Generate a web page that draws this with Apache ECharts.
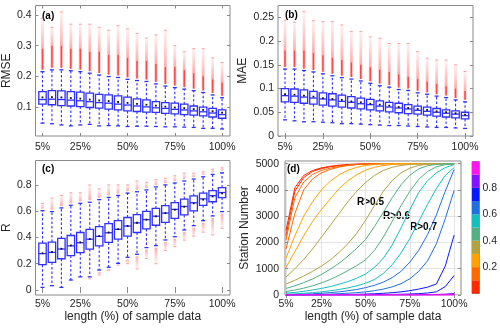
<!DOCTYPE html>
<html>
<head>
<meta charset="utf-8">
<script src="https://cdn.jsdelivr.net/npm/echarts@6/dist/echarts.min.js"></script>
<style>
  html, body { margin: 0; padding: 0; background: #fff; }
  #chart { width: 500px; height: 329px; }
</style>
</head>
<body>
<div id="chart"></div>
<script>
// sample lengths (%) and the tick labels shown on the x axes
const lengths = [5, 10, 15, 20, 25, 30, 35, 40, 45, 50, 55, 60, 65, 70, 75, 80, 85, 90, 95, 100]
const xTicks = [5, 25, 50, 75, 100]

// (a) RMSE box statistics
const rmseLowWhisker = [0.047, 0.045, 0.041, 0.038, 0.041, 0.043, 0.038, 0.039, 0.038, 0.036, 0.037, 0.037, 0.036, 0.035, 0.035, 0.034, 0.033, 0.030, 0.030, 0.028]
const rmseQ1 = [0.109, 0.107, 0.104, 0.103, 0.101, 0.098, 0.096, 0.093, 0.090, 0.087, 0.085, 0.083, 0.082, 0.079, 0.077, 0.075, 0.073, 0.071, 0.067, 0.063]
const rmseMedian = [0.124, 0.125, 0.124, 0.122, 0.120, 0.117, 0.114, 0.112, 0.109, 0.106, 0.103, 0.100, 0.097, 0.095, 0.092, 0.090, 0.087, 0.084, 0.080, 0.075]
const rmseQ3 = [0.150, 0.153, 0.152, 0.150, 0.148, 0.145, 0.141, 0.139, 0.136, 0.132, 0.126, 0.123, 0.117, 0.114, 0.112, 0.109, 0.103, 0.099, 0.095, 0.090]
const rmseHighWhisker = [0.215, 0.221, 0.221, 0.218, 0.215, 0.210, 0.204, 0.199, 0.196, 0.190, 0.186, 0.183, 0.175, 0.168, 0.163, 0.158, 0.153, 0.147, 0.139, 0.130]
const rmseMean = [0.131, 0.132, 0.131, 0.129, 0.127, 0.124, 0.121, 0.119, 0.116, 0.113, 0.110, 0.107, 0.104, 0.101, 0.098, 0.096, 0.093, 0.090, 0.086, 0.081]
const rmseDenseTop = [0.29, 0.30, 0.30, 0.29, 0.29, 0.28, 0.28, 0.27, 0.27, 0.26, 0.25, 0.25, 0.24, 0.23, 0.23, 0.22, 0.21, 0.20, 0.19, 0.18]
const rmseMaxOutlier = [0.39, 0.36, 0.41, 0.37, 0.37, 0.37, 0.36, 0.35, 0.365, 0.355, 0.34, 0.325, 0.335, 0.35, 0.30, 0.28, 0.29, 0.29, 0.26, 0.245]

// (b) MAE box statistics
const maeLowWhisker = [0.034, 0.032, 0.030, 0.030, 0.029, 0.028, 0.026, 0.026, 0.025, 0.024, 0.023, 0.022, 0.022, 0.021, 0.020, 0.019, 0.018, 0.018, 0.017, 0.016]
const maeQ1 = [0.072, 0.071, 0.069, 0.067, 0.065, 0.063, 0.061, 0.059, 0.057, 0.055, 0.053, 0.051, 0.049, 0.047, 0.046, 0.044, 0.042, 0.040, 0.038, 0.036]
const maeMedian = [0.085, 0.084, 0.082, 0.080, 0.078, 0.076, 0.073, 0.071, 0.068, 0.066, 0.063, 0.061, 0.059, 0.057, 0.054, 0.052, 0.050, 0.048, 0.046, 0.043]
const maeQ3 = [0.100, 0.099, 0.097, 0.094, 0.091, 0.089, 0.086, 0.083, 0.080, 0.077, 0.074, 0.071, 0.069, 0.066, 0.063, 0.061, 0.058, 0.055, 0.053, 0.050]
const maeHighWhisker = [0.141, 0.141, 0.138, 0.135, 0.131, 0.127, 0.123, 0.120, 0.116, 0.111, 0.106, 0.103, 0.098, 0.096, 0.091, 0.088, 0.084, 0.081, 0.076, 0.072]
const maeMean = [0.088, 0.087, 0.085, 0.083, 0.080, 0.078, 0.076, 0.073, 0.071, 0.068, 0.066, 0.064, 0.061, 0.059, 0.057, 0.055, 0.052, 0.050, 0.048, 0.045]
const maeDenseTop = [0.18, 0.18, 0.18, 0.175, 0.17, 0.165, 0.16, 0.155, 0.15, 0.145, 0.14, 0.135, 0.13, 0.125, 0.12, 0.115, 0.11, 0.105, 0.10, 0.095]
const maeMaxOutlier = [0.244, 0.240, 0.262, 0.243, 0.241, 0.241, 0.234, 0.220, 0.220, 0.209, 0.206, 0.195, 0.195, 0.195, 0.178, 0.164, 0.160, 0.160, 0.150, 0.136]

// (c) R box statistics
const rLowWhisker = [0.020, 0.033, 0.020, 0.076, 0.100, 0.100, 0.152, 0.173, 0.203, 0.249, 0.272, 0.323, 0.338, 0.381, 0.406, 0.457, 0.490, 0.528, 0.564, 0.597]
const rQ1 = [0.193, 0.210, 0.238, 0.262, 0.284, 0.312, 0.336, 0.362, 0.387, 0.410, 0.438, 0.465, 0.493, 0.515, 0.546, 0.572, 0.602, 0.645, 0.672, 0.704]
const rMedian = [0.277, 0.286, 0.312, 0.336, 0.360, 0.387, 0.408, 0.436, 0.462, 0.487, 0.511, 0.536, 0.562, 0.586, 0.614, 0.636, 0.664, 0.694, 0.718, 0.742]
const rQ3 = [0.357, 0.365, 0.393, 0.415, 0.438, 0.462, 0.482, 0.506, 0.528, 0.552, 0.574, 0.598, 0.621, 0.642, 0.666, 0.692, 0.716, 0.737, 0.757, 0.780]
const rHighWhisker = [0.604, 0.597, 0.625, 0.645, 0.660, 0.668, 0.688, 0.705, 0.720, 0.738, 0.748, 0.762, 0.785, 0.800, 0.815, 0.830, 0.845, 0.862, 0.880, 0.892]
const rMean = [0.280, 0.290, 0.314, 0.339, 0.363, 0.388, 0.411, 0.438, 0.463, 0.488, 0.512, 0.536, 0.561, 0.585, 0.611, 0.634, 0.660, 0.688, 0.712, 0.736]
const rMaxOutlier = [0.66, 0.70, 0.72, 0.74, 0.74, 0.80, 0.77, 0.80, 0.80, 0.80, 0.83, 0.82, 0.84, 0.85, 0.87, 0.89, 0.89, 0.90, 0.92, 0.93]
const rMinOutlier = [null, null, null, null, null, 0.085, 0.115, 0.15, 0.19, 0.20, 0.16, 0.24, 0.20, 0.30, 0.33, 0.38, 0.41, 0.44, 0.42, 0.47]

// (d) number of stations with R above each threshold
const countR00 = [2450, 4080, 4550, 4740, 4840, 4900, 4940, 4965, 4980, 4990, 5000, 5000, 5000, 5000, 5000, 5000, 5000, 5000, 5000, 5000]
const countR05 = [2250, 3950, 4470, 4700, 4810, 4880, 4925, 4955, 4975, 4990, 4995, 5000, 5000, 5000, 5000, 5000, 5000, 5000, 5000, 5000]
const countR10 = [2100, 3700, 4300, 4590, 4740, 4830, 4890, 4935, 4965, 4985, 4995, 5000, 5000, 5000, 5000, 5000, 5000, 5000, 5000, 5000]
const countR15 = [1750, 3100, 4000, 4420, 4650, 4780, 4870, 4930, 4965, 4985, 4995, 5000, 5000, 5000, 5000, 5000, 5000, 5000, 5000, 5000]
const countR20 = [1400, 2250, 3000, 3550, 4000, 4330, 4580, 4750, 4860, 4930, 4970, 4990, 5000, 5000, 5000, 5000, 5000, 5000, 5000, 5000]
const countR25 = [1050, 1650, 2250, 2800, 3250, 3650, 4050, 4350, 4580, 4750, 4860, 4930, 4970, 4990, 5000, 5000, 5000, 5000, 5000, 5000]
const countR30 = [680, 1000, 1350, 1750, 2200, 2650, 3100, 3550, 3950, 4280, 4550, 4740, 4860, 4930, 4970, 4990, 5000, 5000, 5000, 5000]
const countR35 = [420, 560, 720, 900, 1100, 1330, 1620, 1950, 2350, 2850, 3400, 3950, 4350, 4650, 4830, 4930, 4980, 5000, 5000, 5000]
const countR40 = [250, 350, 470, 610, 780, 980, 1210, 1480, 1780, 2120, 2600, 3150, 3700, 4200, 4560, 4800, 4920, 4970, 4990, 5000]
const countR45 = [130, 190, 260, 350, 460, 590, 750, 930, 1120, 1340, 1700, 2200, 2800, 3400, 3950, 4400, 4700, 4880, 4960, 5000]
const countR50 = [70, 100, 140, 190, 250, 320, 410, 510, 640, 800, 1050, 1400, 1900, 2550, 3250, 3900, 4350, 4650, 4850, 4960]
const countR55 = [30, 45, 65, 90, 120, 160, 210, 270, 350, 450, 590, 820, 1150, 1600, 2150, 2800, 3450, 4050, 4550, 4850]
const countR60 = [12, 20, 30, 45, 65, 90, 120, 160, 210, 280, 370, 490, 660, 900, 1250, 1700, 2300, 3050, 3950, 4770]
const countR65 = [5, 8, 12, 18, 26, 36, 50, 68, 90, 120, 165, 225, 310, 430, 620, 900, 1300, 1950, 2900, 3980]
const countR70 = [1, 2, 3, 5, 7, 10, 14, 19, 26, 35, 48, 65, 88, 120, 165, 225, 300, 420, 1100, 2280]
const countR75 = [0, 0, 1, 1, 2, 3, 4, 5, 7, 9, 12, 16, 21, 28, 38, 52, 75, 120, 320, 740]
const countR80 = [0, 0, 0, 0, 0, 0, 0, 0, 0, 1, 1, 2, 3, 4, 6, 9, 14, 22, 35, 60]
const countR85 = [0, 0, 0, 0, 0, 0, 0, 0, 0, 0, 0, 0, 0, 0, 0, 1, 2, 4, 8, 15]
const countR90 = [0, 0, 0, 0, 0, 0, 0, 0, 0, 0, 0, 0, 0, 0, 0, 0, 0, 0, 0, 0]
const countR95 = [0, 0, 0, 0, 0, 0, 0, 0, 0, 0, 0, 0, 0, 0, 0, 0, 0, 0, 0, 0]
const stationCounts = [countR00, countR05, countR10, countR15, countR20, countR25, countR30, countR35, countR40, countR45,
  countR50, countR55, countR60, countR65, countR70, countR75, countR80, countR85, countR90, countR95]

// colour bar: 10 bins from 0 to 1
const colorbarEdges = [0, 0.1, 0.2, 0.3, 0.4, 0.5, 0.6, 0.7, 0.8, 0.9, 1.0]
const colorbarColors = ['#ff2a00', '#ff6a00', '#ffa200', '#b2a340', '#52b083', '#14c0bd', '#1f6fe0', '#0818ff', '#8212ff', '#ff14f0']
const colorbarTicks = [0.2, 0.4, 0.6, 0.8]

const FONT = 'Liberation Sans'
const TEXT = '#262626'
const FRAME = '#8a8a8a'
const BLUE = '#2f2fff'

// 箱线图：箱体、虚线须、均值点
const renderBox = (params, api) => {
  const x = api.value(0)
  const lo = api.coord([x, api.value(1)])
  const q1 = api.coord([x, api.value(2)])
  const md = api.coord([x, api.value(3)])
  const q3 = api.coord([x, api.value(4)])
  const hi = api.coord([x, api.value(5)])
  const mn = api.coord([x, api.value(6)])
  const cx = lo[0]
  const hw = 3.7
  const cap = 2
  const dash = { stroke: BLUE, lineWidth: 1.1, lineDash: [2.5, 2] }
  const solid = { stroke: BLUE, lineWidth: 1.3 }
  return {
    type: 'group',
    children: [
      { type: 'line', shape: { x1: cx, y1: q3[1], x2: cx, y2: hi[1] }, style: dash },
      { type: 'line', shape: { x1: cx, y1: q1[1], x2: cx, y2: lo[1] }, style: dash },
      { type: 'line', shape: { x1: cx - cap, y1: hi[1], x2: cx + cap, y2: hi[1] }, style: solid },
      { type: 'line', shape: { x1: cx - cap, y1: lo[1], x2: cx + cap, y2: lo[1] }, style: solid },
      { type: 'rect', shape: { x: cx - hw, y: q3[1], width: 2 * hw, height: q1[1] - q3[1] }, style: { fill: 'none', stroke: BLUE, lineWidth: 1.3 } },
      { type: 'line', shape: { x1: cx - hw, y1: md[1], x2: cx + hw, y2: md[1] }, style: solid },
      { type: 'rect', shape: { x: cx - 0.9, y: mn[1] - 0.9, width: 1.8, height: 1.8 }, style: { fill: '#111' } }
    ]
  }
}

// 异常值：从须端到最大异常值的红色柱（密集段 + 稀疏段）
const renderOutliers = (params, api) => {
  const x = api.value(0)
  const start = api.coord([x, api.value(1)])
  const dense = api.coord([x, api.value(2)])
  const end = api.coord([x, api.value(3)])
  const cx = start[0]
  const dir = end[1] < start[1] ? -1 : 1
  const s0 = start[1] + dir * 2
  const children = []
  const hasDense = Math.abs(dense[1] - start[1]) > 2
  if (hasDense) {
    children.push({ type: 'rect', shape: { x: cx - 0.8, y: Math.min(s0, dense[1]), width: 1.6, height: Math.abs(dense[1] - s0) }, style: { fill: 'rgba(255,30,30,0.8)' } })
    children.push({ type: 'rect', shape: { x: cx - 1.6, y: Math.min(s0, dense[1]), width: 3.2, height: Math.abs(dense[1] - s0) }, style: { fill: 'rgba(255,60,60,0.25)' } })
  }
  const a = hasDense ? dense[1] : s0
  children.push({
    type: 'rect',
    shape: { x: cx - 1.4, y: Math.min(a, end[1]), width: 2.8, height: Math.abs(end[1] - a) },
    style: {
      fill: {
        type: 'linear', x: 0, y: dir < 0 ? 1 : 0, x2: 0, y2: dir < 0 ? 0 : 1,
        colorStops: [{ offset: 0, color: 'rgba(255,70,70,0.45)' }, { offset: 1, color: 'rgba(255,110,110,0.1)' }]
      }
    }
  })
  children.push({ type: 'line', shape: { x1: cx - 1.5, y1: end[1], x2: cx + 1.5, y2: end[1] }, style: { stroke: 'rgba(255,70,70,0.5)', lineWidth: 1 } })
  return { type: 'group', children }
}

const boxData = (low, q1, med, q3, high, mean) => lengths.map((x, i) => [x, low[i], q1[i], med[i], q3[i], high[i], mean[i]])
const outData = (from, dense, to) => lengths.map((x, i) => [x, from[i], dense[i], to[i]]).filter(d => d[3] != null)

const tickLabelStyle = { fontFamily: FONT, fontSize: 10.5, color: TEXT }
const nameStyle = { fontFamily: FONT, fontSize: 12, color: TEXT }

// 底部 x 轴 + 顶部只带刻度的 x 轴
const xPair = (grid, min, max, margin, name) => [
  {
    type: 'value', gridIndex: grid, min, max, position: 'bottom',
    axisLine: { show: false }, splitLine: { show: grid === 3, lineStyle: { color: '#e3e3e3', width: 1 } },
    axisTick: { inside: true, length: 3, lineStyle: { color: FRAME }, customValues: xTicks },
    axisLabel: { ...tickLabelStyle, margin, customValues: xTicks, formatter: v => v + '%' },
    name, nameLocation: 'middle', nameGap: 16, nameTextStyle: nameStyle
  },
  {
    type: 'value', gridIndex: grid, min, max, position: 'top',
    axisLine: { show: false }, splitLine: { show: false },
    axisTick: { inside: true, length: 3, lineStyle: { color: FRAME }, customValues: xTicks },
    axisLabel: { show: false }
  }
]

const yPair = (grid, min, max, ticks, name, nameGap, extra) => [
  {
    type: 'value', gridIndex: grid, min, max, position: 'left',
    axisLine: { show: false }, splitLine: { show: false },
    axisTick: { inside: true, length: 3, lineStyle: { color: FRAME }, customValues: ticks },
    axisLabel: { ...tickLabelStyle, margin: 4, customValues: ticks, formatter: v => String(v) },
    name, nameLocation: 'middle', nameGap, nameTextStyle: nameStyle,
    ...(extra || {})
  },
  {
    type: 'value', gridIndex: grid, min, max, position: 'right',
    axisLine: { show: false }, splitLine: { show: false },
    axisTick: { inside: true, length: 3, lineStyle: { color: FRAME }, customValues: ticks },
    axisLabel: { show: false }
  }
]

const chart = echarts.init(document.getElementById('chart'), null, { renderer: 'canvas' })

const gridStyle = { show: true, borderColor: FRAME, borderWidth: 1, backgroundColor: '#fff', containLabel: false }

const series = []
// (a)
series.push({ type: 'custom', xAxisIndex: 0, yAxisIndex: 0, silent: true, renderItem: renderOutliers, data: outData(rmseHighWhisker, rmseDenseTop, rmseMaxOutlier) })
series.push({ type: 'custom', xAxisIndex: 0, yAxisIndex: 0, silent: true, renderItem: renderBox, data: boxData(rmseLowWhisker, rmseQ1, rmseMedian, rmseQ3, rmseHighWhisker, rmseMean) })
// (b)
series.push({ type: 'custom', xAxisIndex: 2, yAxisIndex: 2, silent: true, renderItem: renderOutliers, data: outData(maeHighWhisker, maeDenseTop, maeMaxOutlier) })
series.push({ type: 'custom', xAxisIndex: 2, yAxisIndex: 2, silent: true, renderItem: renderBox, data: boxData(maeLowWhisker, maeQ1, maeMedian, maeQ3, maeHighWhisker, maeMean) })
// (c)
series.push({ type: 'custom', xAxisIndex: 4, yAxisIndex: 4, silent: true, renderItem: renderOutliers, data: outData(rHighWhisker, rHighWhisker, rMaxOutlier) })
series.push({ type: 'custom', xAxisIndex: 4, yAxisIndex: 4, silent: true, renderItem: renderOutliers, data: outData(rLowWhisker, rLowWhisker, rMinOutlier) })
series.push({ type: 'custom', xAxisIndex: 4, yAxisIndex: 4, silent: true, renderItem: renderBox, data: boxData(rLowWhisker, rQ1, rMedian, rQ3, rHighWhisker, rMean) })
// (d)
stationCounts.forEach((counts, k) => {
  series.push({
    type: 'line', xAxisIndex: 6, yAxisIndex: 6, silent: true, symbol: 'none',
    lineStyle: { width: 1, color: colorbarColors[Math.floor(k / 2)] },
    data: lengths.map((x, i) => [x, counts[i]])
  })
})
// colour bar
colorbarColors.forEach((c, i) => {
  series.push({
    type: 'bar', xAxisIndex: 8, yAxisIndex: 8, stack: 'cb', barWidth: '100%', silent: true,
    itemStyle: { color: c },
    data: [colorbarEdges[i + 1] - colorbarEdges[i]]
  })
})

const option = {
  animation: false,
  textStyle: { fontFamily: FONT },
  grid: [
    { left: 34, top: 5.5, width: 196, height: 130.5, ...gridStyle },
    { left: 278, top: 5.5, width: 195, height: 130.5, ...gridStyle },
    { left: 34, top: 160.5, width: 196, height: 134.5, ...gridStyle },
    { left: 285, top: 161, width: 176, height: 134, ...gridStyle },
    { left: 472, top: 161.5, width: 7.5, height: 132, ...gridStyle }
  ],
  xAxis: [
    ...xPair(0, 1.3, 104.2, 5.5),
    ...xPair(1, 1.3, 104.2, 5.5),
    ...xPair(2, 1.3, 104.2, 4, 'length (%) of sample data'),
    ...xPair(3, 4.43, 103.9, 4, 'length (%) of sample data'),
    { type: 'category', gridIndex: 4, data: [''], show: false }
  ],
  yAxis: [
    ...yPair(0, 0.005, 0.431, [0.1, 0.2, 0.3, 0.4], 'RMSE', 18),
    ...yPair(1, 0, 0.275, [0, 0.05, 0.1, 0.15, 0.2, 0.25], 'MAE', 29),
    ...yPair(2, -0.038, 0.986, [0, 0.2, 0.4, 0.6, 0.8], 'R', 19.5),
    ...yPair(3, 0, 5100, [0, 1000, 2000, 3000, 4000, 5000], 'Station Number', 34,
      { splitLine: { show: true, lineStyle: { color: '#e3e3e3', width: 1 } }, axisLabel: { ...tickLabelStyle, margin: 6, customValues: [0, 1000, 2000, 3000, 4000, 5000], formatter: v => String(v) } }),
    {
      type: 'value', gridIndex: 4, min: 0, max: 1, position: 'right',
      axisLine: { show: false }, splitLine: { show: false }, axisTick: { show: false },
      axisLabel: { ...tickLabelStyle, margin: 3, customValues: colorbarTicks }
    }
  ],
  graphic: [
    { type: 'text', left: 42, top: 11, style: { text: '(a)', font: 'bold 10px Liberation Sans', fill: '#000' } },
    { type: 'text', left: 285, top: 10, style: { text: '(b)', font: 'bold 10px Liberation Sans', fill: '#000' } },
    { type: 'text', left: 42, top: 164, style: { text: '(c)', font: 'bold 10px Liberation Sans', fill: '#000' } },
    { type: 'text', left: 287, top: 164, style: { text: '(d)', font: 'bold 10px Liberation Sans', fill: '#000' } },
    { type: 'text', left: 357, top: 197, style: { text: 'R>0.5', font: 'bold 10px Liberation Sans', fill: '#000' } },
    { type: 'text', left: 383, top: 211, style: { text: 'R>0.6', font: 'bold 10px Liberation Sans', fill: '#000' } },
    { type: 'text', left: 410, top: 222, style: { text: 'R>0.7', font: 'bold 10px Liberation Sans', fill: '#000' } }
  ],
  series
}

chart.setOption(option)
</script>
</body>
</html>
